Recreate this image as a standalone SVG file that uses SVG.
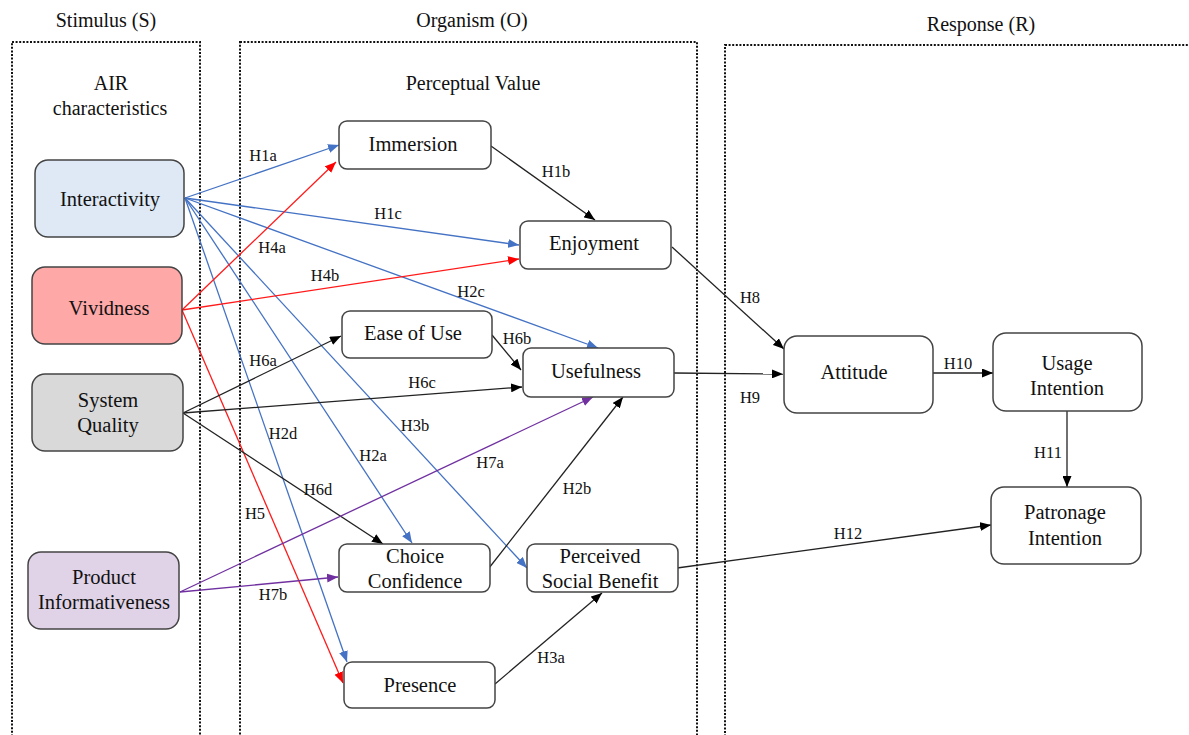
<svg xmlns="http://www.w3.org/2000/svg" width="1189" height="735" viewBox="0 0 1189 735">
<defs>
<style>
text{font-family:Liberation Serif,Times New Roman,Tinos,Nimbus Roman,FreeSerif,Noto Serif,DejaVu Serif,serif;fill:#111;text-anchor:middle}
.hdr{font-size:20px}
.nt{font-size:20.5px}
.lb{font-size:16.5px}
.zone{fill:none;stroke:#111;stroke-width:2;stroke-dasharray:2 1.6}
.node{stroke:#444;stroke-width:1.5}
.w{fill:#fff}
.e{fill:none;stroke-width:1.3}
.b{stroke:#4472c4;marker-end:url(#ab)}
.r{stroke:#ff1a1a;marker-end:url(#ar)}
.k{stroke:#222;marker-end:url(#ak)}
.p{stroke:#7030a0;marker-end:url(#ap)}
</style>
<marker id="ab" markerUnits="userSpaceOnUse" markerWidth="11" markerHeight="9" refX="11" refY="4.5" orient="auto"><path d="M0,0 L11,4.5 L0,9 z" fill="#4472c4"/></marker>
<marker id="ar" markerUnits="userSpaceOnUse" markerWidth="11" markerHeight="9" refX="11" refY="4.5" orient="auto"><path d="M0,0 L11,4.5 L0,9 z" fill="#ff0000"/></marker>
<marker id="ak" markerUnits="userSpaceOnUse" markerWidth="11" markerHeight="9" refX="11" refY="4.5" orient="auto"><path d="M0,0 L11,4.5 L0,9 z" fill="#000"/></marker>
<marker id="ap" markerUnits="userSpaceOnUse" markerWidth="11" markerHeight="9" refX="11" refY="4.5" orient="auto"><path d="M0,0 L11,4.5 L0,9 z" fill="#7030a0"/></marker>
</defs>
<rect width="1189" height="735" fill="#fff"/>
<g id="zones">
<rect class="zone" x="12" y="42" width="188" height="710"/>
<rect class="zone" x="240" y="42" width="457" height="710"/>
<rect class="zone" x="725" y="45" width="480" height="710"/>
<text class="hdr" x="106" y="27">Stimulus (S)</text>
<text class="hdr" x="472" y="27">Organism (O)</text>
<text class="hdr" x="981" y="31">Response (R)</text>
<text class="hdr" x="111" y="90">AIR</text>
<text class="hdr" x="110" y="115">characteristics</text>
<text class="hdr" x="473" y="90">Perceptual Value</text>
</g>
<g id="connectors">
<path class="e b" d="M185,198 L339,145"/>
<path class="e b" d="M185,198 L519,245"/>
<path class="e b" d="M185,198 L598,348"/>
<path class="e b" d="M185,198 L527,568"/>
<path class="e b" d="M185,198 L412,543"/>
<path class="e b" d="M185,198 L347,662"/>
<path class="e r" d="M182,310 L336,162"/>
<path class="e r" d="M182,310 L519,259"/>
<path class="e r" d="M182,310 L343,683"/>
<path class="e k" d="M183,413 L341,336"/>
<path class="e k" d="M183,413 L522,387"/>
<path class="e k" d="M492,335 L521,370"/>
<path class="e k" d="M183,413 L383,544"/>
<path class="e k" d="M489,568 L623,397"/>
<path class="e k" d="M495,684 L602,593"/>
<path class="e k" d="M491,146 L595,220"/>
<path class="e k" d="M672,247 L784,349"/>
<path class="e k" d="M674,373 L783,374"/>
<path class="e k" d="M933,373 L993,373"/>
<path class="e k" d="M1067,411 L1067,487"/>
<path class="e k" d="M677,568 L991,525"/>
<path class="e p" d="M180,592 L593,397"/>
<path class="e p" d="M180,592 L338,577"/>
<g id="labels">
<text class="lb" x="263" y="161">H1a</text>
<text class="lb" x="272" y="253">H4a</text>
<text class="lb" x="388" y="219">H1c</text>
<text class="lb" x="325" y="281">H4b</text>
<text class="lb" x="471" y="297">H2c</text>
<text class="lb" x="263" y="366">H6a</text>
<text class="lb" x="517" y="344">H6b</text>
<text class="lb" x="422" y="388">H6c</text>
<text class="lb" x="283" y="439">H2d</text>
<text class="lb" x="415" y="431">H3b</text>
<text class="lb" x="373" y="461">H2a</text>
<text class="lb" x="490" y="468">H7a</text>
<text class="lb" x="318" y="495">H6d</text>
<text class="lb" x="577" y="494">H2b</text>
<text class="lb" x="255" y="519">H5</text>
<text class="lb" x="273" y="600">H7b</text>
<text class="lb" x="551" y="663">H3a</text>
<text class="lb" x="556" y="177">H1b</text>
<text class="lb" x="750" y="303">H8</text>
<text class="lb" x="750" y="403">H9</text>
<text class="lb" x="958" y="369">H10</text>
<text class="lb" x="1048" y="458">H11</text>
<text class="lb" x="848" y="539">H12</text>
</g>
</g>
<g id="n-interactivity"><rect class="node" x="35" y="160" width="149" height="77" rx="13" fill="#dee9f5"/><text class="nt" x="110" y="206">Interactivity</text></g>
<g id="n-vividness"><rect class="node" x="32" y="267" width="150" height="77" rx="13" fill="#ffa8a8"/><text class="nt" x="109" y="315">Vividness</text></g>
<g id="n-system"><rect class="node" x="32" y="374" width="151" height="77" rx="13" fill="#d9d9d9"/><text class="nt" x="108" y="407">System</text><text class="nt" x="108" y="432">Quality</text></g>
<g id="n-product"><rect class="node" x="28" y="552" width="151" height="77" rx="13" fill="#e0d3e8"/><text class="nt" x="104" y="584">Product</text><text class="nt" x="104" y="609">Informativeness</text></g>
<g id="n-immersion"><rect class="node w" x="339" y="121" width="152" height="48" rx="8"/><text class="nt" x="413" y="151">Immersion</text></g>
<g id="n-enjoyment"><rect class="node w" x="520" y="221" width="151" height="48" rx="8"/><text class="nt" x="594" y="250">Enjoyment</text></g>
<g id="n-ease"><rect class="node w" x="342" y="311" width="150" height="47" rx="8"/><text class="nt" x="413" y="340">Ease of Use</text></g>
<g id="n-usefulness"><rect class="node w" x="523" y="348" width="151" height="49" rx="8"/><text class="nt" x="596" y="378">Usefulness</text></g>
<g id="n-choice"><rect class="node w" x="339" y="544" width="151" height="48" rx="8"/><text class="nt" x="415" y="563">Choice</text><text class="nt" x="415" y="588">Confidence</text></g>
<g id="n-psb"><rect class="node w" x="527" y="544" width="151" height="48" rx="8"/><text class="nt" x="600" y="563">Perceived</text><text class="nt" x="600" y="588">Social Benefit</text></g>
<g id="n-presence"><rect class="node w" x="344" y="662" width="151" height="46" rx="8"/><text class="nt" x="420" y="692">Presence</text></g>
<g id="n-attitude"><rect class="node w" x="784" y="336" width="149" height="77" rx="13"/><text class="nt" x="854" y="379">Attitude</text></g>
<g id="n-usage"><rect class="node w" x="993" y="333" width="149" height="78" rx="13"/><text class="nt" x="1067" y="370">Usage</text><text class="nt" x="1067" y="395">Intention</text></g>
<g id="n-patronage"><rect class="node w" x="991" y="487" width="150" height="77" rx="13"/><text class="nt" x="1065" y="519">Patronage</text><text class="nt" x="1065" y="545">Intention</text></g>
</svg>
